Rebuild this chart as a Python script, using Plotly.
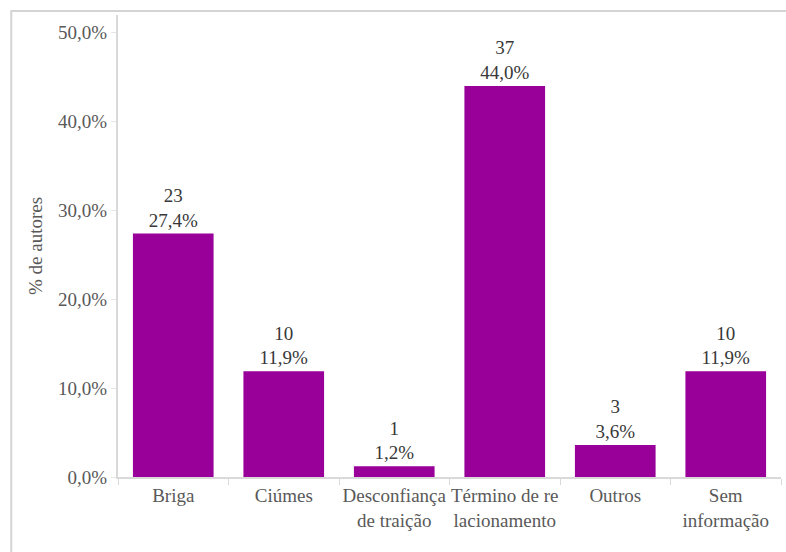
import plotly.graph_objects as go

categories = ["Briga", "Ciúmes", "Desconfiança<br>de traição", "Término de re<br>lacionamento",
              "Outros", "Sem<br>informação"]
counts = [23, 10, 1, 37, 3, 10]
percents = [27.4, 11.9, 1.2, 44.0, 3.6, 11.9]
y_ticks = [0, 10, 20, 30, 40, 50]

font_family = "Liberation Serif"
fsize = 19

fig = go.Figure(go.Bar(
    x=categories,
    y=percents,
    customdata=counts,
    texttemplate="%{customdata}<br>%{y:.1f}%",
    textposition="outside",
    textfont=dict(family=font_family, size=fsize, color="#383838"),
    marker=dict(color="#990099", line=dict(width=0)),
    width=0.73,
    cliponaxis=False,
))

fig.update_layout(
    width=786, height=552,
    margin=dict(l=118, r=5, t=15, b=75, autoexpand=False),
    paper_bgcolor="white",
    plot_bgcolor="white",
    separators=",.",
    showlegend=False,
    font=dict(family=font_family, size=fsize, color="#595959"),
    shapes=[dict(type="rect", xref="paper", yref="paper",
                 x0=-0.161, x1=1.1, y0=-0.3, y1=1.0087,
                 line=dict(color="#d4d4d4", width=2), fillcolor="rgba(0,0,0,0)",
                 layer="below")],
)

fig.update_xaxes(
    showline=True, linecolor="#d9d9d9", linewidth=2,
    ticks="outside", tickson="boundaries", ticklen=6, tickcolor="#d9d9d9",
    tickangle=0, automargin=False,
    tickfont=dict(family=font_family, size=fsize, color="#595959"),
    showgrid=False,
)
fig.update_yaxes(
    range=[0, 52],
    tickvals=y_ticks,
    ticktext=[f"{v},0%" for v in y_ticks],
    showline=True, linecolor="#d9d9d9", linewidth=2,
    ticks="outside", ticklen=5, tickcolor="#e6e6e6",
    showgrid=False, zeroline=False, automargin=False,
    title=dict(text="% de autores", font=dict(family=font_family, size=fsize, color="#595959"), standoff=10),
    tickfont=dict(family=font_family, size=fsize, color="#595959"),
)

fig.write_html("out.html")
